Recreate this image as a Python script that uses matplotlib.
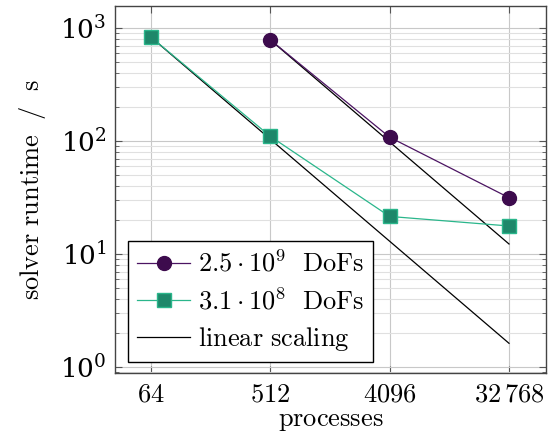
import numpy as np
import matplotlib.pyplot as plt
from matplotlib.ticker import FixedLocator, NullFormatter, LogLocator

plt.rcParams['mathtext.fontset'] = 'cm'
plt.rcParams['font.family'] = 'serif'
plt.rcParams['font.serif'] = ['DejaVu Serif']

# data
procs_big = [512, 4096, 32768]
time_big = [785, 108, 31.5]
procs_small = [64, 512, 4096, 32768]
time_small = [830, 110, 21.5, 17.7]

xticks = [64, 512, 4096, 32768]
xticklabels = [r'$64$', r'$512$', r'$4096$', r'$32\,768$']

col_big = '#3d0b4d'
col_big_line = '#4b1462'
col_small = '#1e876a'
col_small_line = '#2ab68b'

FS = 19

fig = plt.figure(figsize=(5.55, 4.34), dpi=100)
ax = fig.add_axes([115 / 555, 1 - 373 / 434, (546 - 115) / 555, (373 - 6) / 434])

ax.set_xscale('log', base=2)
ax.set_yscale('log')

# linear scaling references from first point of each series
lin_big = time_big[0] * procs_big[0] / np.array(procs_big)
lin_small = time_small[0] * procs_small[0] / np.array(procs_small)

ax.plot(procs_big, time_big, color=col_big_line, lw=0.9, marker='o', ms=10,
        mfc=col_big, mec=col_big, label=r'$2.5\cdot10^9\ \ \mathrm{DoFs}$', zorder=4)
ax.plot(procs_small, time_small, color=col_small_line, lw=0.9, marker='s', ms=9.5,
        mfc=col_small, mec=col_small_line, mew=1.0, label=r'$3.1\cdot10^8\ \ \mathrm{DoFs}$', zorder=4)
ax.plot(procs_small, lin_small, color='black', lw=0.9, label=r'$\mathrm{linear\ scaling}$', zorder=3)
ax.plot(procs_big, lin_big, color='black', lw=0.9, zorder=3)

ax.set_xlim(2 ** 5.096, 2 ** 15.93)
ax.set_ylim(0.885, 1566)

ax.xaxis.set_major_locator(FixedLocator(xticks))
ax.set_xticklabels(xticklabels)
ax.xaxis.set_minor_locator(FixedLocator([]))
ax.yaxis.set_major_locator(LogLocator(base=10, numticks=10))
ax.yaxis.set_minor_locator(LogLocator(base=10, subs=np.arange(2, 10), numticks=20))
ax.yaxis.set_minor_formatter(NullFormatter())

ax.grid(True, which='major', color='#c8c8c8', lw=0.8)
ax.grid(True, which='minor', axis='y', color='#e0e0e0', lw=0.8)
ax.set_axisbelow(True)

ax.tick_params(which='both', direction='in', top=True, right=True, labelsize=FS,
               color='#555555', pad=6)
ax.tick_params(which='major', length=5, width=0.8)
ax.tick_params(which='minor', length=3, width=0.6)
for s in ax.spines.values():
    s.set_color('#444444')
    s.set_linewidth(1.0)

ax.set_xlabel(r'$\mathrm{processes}$', fontsize=FS, labelpad=1)
ax.set_ylabel(r'$\mathrm{solver\ runtime\ \ /\ \ s}$', fontsize=FS, labelpad=9)

leg = ax.legend(loc='lower left', fontsize=FS, frameon=True, fancybox=False,
                edgecolor='black', framealpha=1, borderpad=0.35, handlelength=2.0,
                handletextpad=0.3, labelspacing=0.4, borderaxespad=0,
                bbox_to_anchor=((128 - 115) / 431, (373 - 362) / 367))
leg.get_frame().set_linewidth(1.0)

fig.savefig('out.png', dpi=100)
